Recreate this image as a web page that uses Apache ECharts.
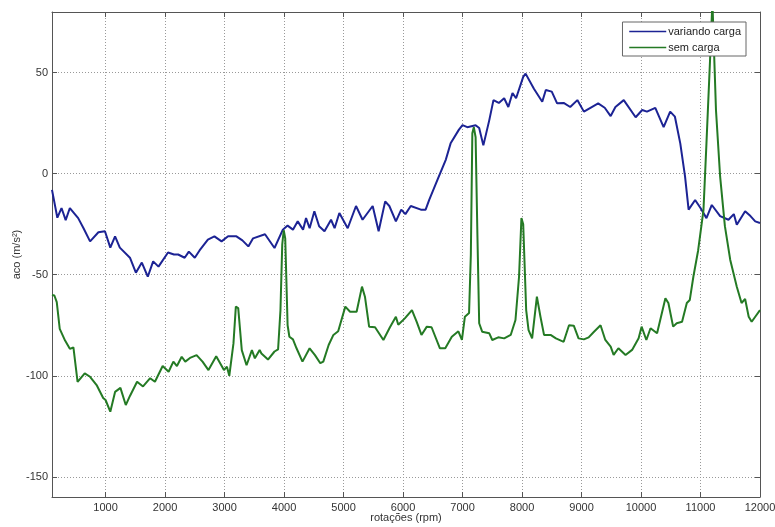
<!DOCTYPE html>
<html>
<head>
<meta charset="utf-8">
<script src="https://cdn.jsdelivr.net/npm/echarts@6/dist/echarts.min.js"></script>
<style>
  html, body { margin: 0; padding: 0; background: #fff; }
  #chart { width: 775px; height: 527px; }
</style>
</head>
<body>
<div id="chart"></div>
<script>
// variando carga (blue)
const rpmLoad = [100, 190, 260, 330, 400, 540, 630, 740, 880, 990, 1080, 1160, 1240, 1410, 1510, 1610, 1710, 1800, 1890, 2050,
  2150, 2220, 2330, 2400, 2500, 2580, 2720, 2830, 2950, 3060, 3200, 3300, 3400, 3480, 3680, 3840, 3980, 4060, 4150, 4230,
  4320, 4370, 4430, 4510, 4590, 4680, 4790, 4850, 4930, 5070, 5210, 5320, 5490, 5590, 5700, 5770, 5880, 5970, 6040, 6130,
  6300, 6380, 6440, 6580, 6720, 6800, 6940, 7000, 7080, 7220, 7280, 7350, 7450, 7520, 7610, 7700, 7770, 7840, 7900, 8020,
  8060, 8200, 8340, 8400, 8500, 8590, 8700, 8810, 8930, 9040, 9150, 9280, 9390, 9490, 9570, 9710, 9910, 10020, 10100, 10240,
  10380, 10490, 10570, 10660, 10740, 10800, 10910, 11000, 11100, 11190, 11330, 11470, 11560, 11610, 11750, 11840, 11920, 12000];
const accLoad = [-8, -21.8, -17, -23, -17, -22, -27, -33.5, -29, -28.5, -36.6, -31, -36.6, -41.6, -49, -44, -51, -43.4, -46, -39,
  -40, -40, -41.6, -38.6, -41.6, -38, -32.6, -31, -33.5, -31, -31, -33, -36, -32, -30, -36.8, -27.7, -25.7, -27.7, -23.6,
  -27.7, -22, -27, -18.6, -26, -28.5, -22.8, -27, -19.5, -27, -16, -22.8, -16, -28.5, -13.7, -16, -23.6, -17.8, -20, -16,
  -17.8, -17.8, -13, -3, 7, 15, 21.8, 24, 23, 24, 22.6, 14, 26.5, 36.4, 35, 37.3, 33, 39.9, 37.3, 47.9,
  49.5, 42, 35.6, 41.4, 40.6, 34.8, 35, 33, 36.4, 30.7, 32.6, 34.8, 32.6, 28.5, 33, 36.4, 27.9, 31.5, 30.7, 32.6,
  23, 30.7, 28.2, 15, -1.3, -17.8, -13, -17, -22, -15.5, -21, -22.8, -20, -25.3, -18.6, -21, -23.6, -24.4];

// sem carga (green)
const rpmFree = [100, 140, 180, 230, 320, 400, 460, 530, 650, 740, 850, 960, 1000, 1080, 1160, 1250, 1340, 1410, 1530, 1630,
  1750, 1830, 1960, 2060, 2140, 2200, 2280, 2340, 2430, 2530, 2630, 2730, 2860, 2990, 3040, 3080, 3150, 3190, 3230, 3290,
  3370, 3460, 3510, 3590, 3620, 3730, 3840, 3900, 3940, 3970, 3995, 4020, 4060, 4090, 4150, 4210, 4310, 4430, 4520, 4610,
  4660, 4750, 4830, 4910, 5030, 5110, 5220, 5310, 5360, 5430, 5530, 5670, 5780, 5880, 5920, 6030, 6150, 6230, 6310, 6400,
  6480, 6620, 6710, 6820, 6930, 6990, 7040, 7110, 7140, 7165, 7190, 7220, 7250, 7280, 7330, 7450, 7500, 7600, 7700, 7810,
  7890, 7950, 7990, 8020, 8070, 8110, 8170, 8250, 8310, 8370, 8480, 8570, 8700, 8790, 8870, 8950, 9040, 9120, 9210, 9320,
  9400, 9490, 9540, 9620, 9740, 9850, 9960, 10010, 10090, 10160, 10270, 10410, 10460, 10540, 10600, 10690, 10770, 10820, 10880, 10960,
  11050, 11100, 11160, 11200, 11260, 11330, 11410, 11500, 11610, 11690, 11750, 11810, 11860, 11920, 12000];
const accFree = [-60, -60.3, -63.6, -76.8, -82.6, -86.7, -86, -103, -98.8, -100.5, -104.6, -111, -112, -117.8, -108, -106, -114.5, -110, -103, -105.3,
  -101.2, -103, -95.2, -98, -93, -95.2, -90.6, -93, -91, -89.8, -93, -97.2, -90.3, -97.2, -95.5, -100, -84, -65.8, -66.5, -87.3,
  -94.8, -87.3, -91.4, -87.3, -89, -92, -88, -87, -67.5, -35, -28, -32, -75, -80.7, -82, -86.4, -93, -86.4, -89.8, -93.8,
  -93, -84.8, -79.8, -78, -65.8, -68.3, -68.3, -55.9, -60.9, -75.7, -76, -82.3, -76, -70.8, -74.8, -71.6, -67.5, -73.3, -79.8, -75.7,
  -76, -86.4, -86.4, -80.7, -78, -82.3, -70.8, -69, -40, 20, 23, 18, -30, -74, -78.2, -79, -82.3, -81, -81.5, -79.8,
  -72.4, -51, -22, -25, -67.5, -77.4, -81.5, -60.9, -70.8, -79.8, -79.8, -81.5, -83.2, -75, -75.2, -81.5, -82, -81, -78.2, -75,
  -82.3, -85.6, -89.7, -86.4, -89.7, -87.2, -81.5, -75.7, -82.3, -76.5, -79, -61.7, -64, -75.7, -74, -73.3, -64, -62.5, -51, -38,
  -18, 15, 56, 85, 31.5, -1.5, -26, -42.7, -56, -64, -62, -70.8, -73.3, -70.8, -67.5];

const seriesNames = ["variando carga", "sem carga"];
const xName = "rotações (rpm)";
const yName = "aco (m/s²)";

const font = "'Liberation Sans', Arial, sans-serif";
const axisColor = "#555";

function zip(xs, ys) {
  return xs.map((x, i) => [x, ys[i]]);
}

const chart = echarts.init(document.getElementById("chart"));

const xBase = {
  type: "value",
  min: 100,
  max: 12000,
  splitNumber: 12,
  axisLine: { show: true, onZero: false, lineStyle: { color: axisColor, width: 1 } },
  axisTick: { show: true, inside: true, length: 5, lineStyle: { color: axisColor } }
};
const yBase = {
  type: "value",
  min: -160,
  max: 80,
  splitNumber: 5,
  axisLine: { show: true, onZero: false, lineStyle: { color: axisColor, width: 1 } },
  axisTick: { show: true, inside: true, length: 5, lineStyle: { color: axisColor } }
};

chart.setOption({
  animation: false,
  backgroundColor: "#fff",
  grid: { left: 52, right: 15, top: 12, bottom: 30, containLabel: false, outerBoundsMode: "none" },
  legend: {
    orient: "vertical",
    right: 29,
    top: 22,
    data: seriesNames,
    itemWidth: 37,
    itemHeight: 12,
    itemGap: 5,
    padding: [4, 5, 3, 6],
    backgroundColor: "#fff",
    borderColor: "#666",
    borderWidth: 1,
    itemStyle: { opacity: 0 },
    lineStyle: { width: 1.5 },
    textStyle: { fontFamily: font, fontSize: 11, color: "#222", padding: [0, 0, 0, -3] }
  },
  xAxis: [
    Object.assign({}, xBase, {
      position: "bottom",
      name: xName,
      nameLocation: "middle",
      nameGap: 15,
      nameMoveOverlap: false,
      nameTextStyle: { fontFamily: font, fontSize: 11, color: "#333" },
      axisLabel: { fontFamily: font, fontSize: 11, color: "#333", margin: 5, showMinLabel: false,
        formatter: (v) => String(v) },
      splitLine: { show: true, lineStyle: { color: "#999", type: [1, 2], width: 1 } }
    }),
    Object.assign({}, xBase, {
      position: "top",
      axisLabel: { show: false },
      splitLine: { show: false }
    })
  ],
  yAxis: [
    Object.assign({}, yBase, {
      position: "left",
      name: yName,
      nameLocation: "middle",
      nameGap: 30,
      nameMoveOverlap: false,
      nameTextStyle: { fontFamily: font, fontSize: 11, color: "#333" },
      axisLabel: { fontFamily: font, fontSize: 11, color: "#333", margin: 4, showMinLabel: false, showMaxLabel: false },
      splitLine: { show: true, lineStyle: { color: "#999", type: [1, 2], width: 1 } }
    }),
    Object.assign({}, yBase, {
      position: "right",
      axisLabel: { show: false },
      splitLine: { show: false }
    })
  ],
  series: [
    {
      name: seriesNames[0],
      type: "line",
      xAxisIndex: 0,
      yAxisIndex: 0,
      data: zip(rpmLoad, accLoad),
      showSymbol: false,
      symbol: "none",
      clip: true,
      color: "#1c2394",
      lineStyle: { color: "#1c2394", width: 2 }
    },
    {
      name: seriesNames[1],
      type: "line",
      xAxisIndex: 0,
      yAxisIndex: 0,
      data: zip(rpmFree, accFree),
      showSymbol: false,
      symbol: "none",
      clip: true,
      color: "#247a24",
      lineStyle: { color: "#247a24", width: 2 }
    }
  ]
});
</script>
</body>
</html>
